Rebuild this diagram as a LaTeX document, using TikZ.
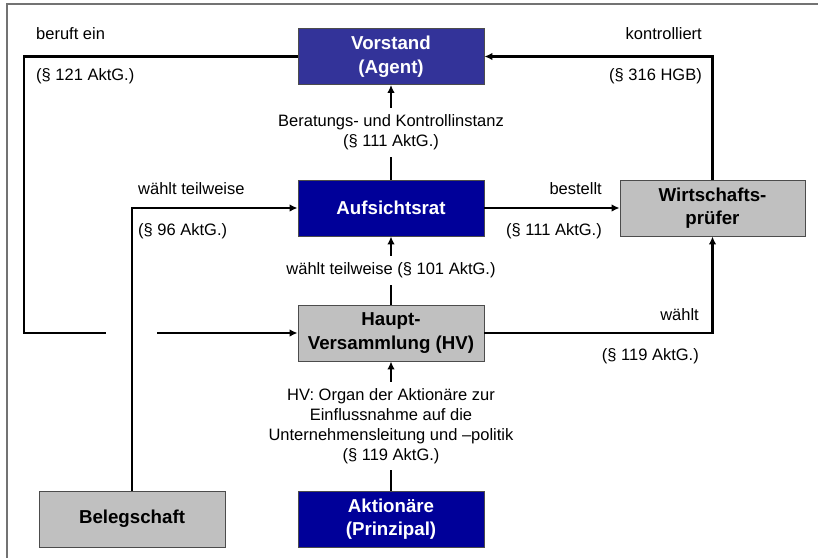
\documentclass[tikz,border=0pt]{standalone}
\usepackage{fontspec}
\setmainfont{Liberation Sans}
\usetikzlibrary{arrows.meta}
\definecolor{agentblue}{HTML}{333399}
\definecolor{darkblue}{HTML}{000099}
\definecolor{boxgray}{HTML}{C0C0C0}
\tikzset{
  box/.style={draw=black!70, line width=0.8pt, minimum width=186pt, minimum height=56pt,
    inner sep=0pt, align=center, font=\fontsize{18.7}{23.5}\selectfont\bfseries},
  agentbox/.style={box, fill=agentblue, text=white},
  bluebox/.style={box, fill=darkblue, text=white},
  graybox/.style={box, fill=boxgray, text=black},
  plainline/.style={line width=2.5pt},
  conn/.style={line width=2.5pt, -{Latex[length=8pt,width=7.5pt]}},
  lbl/.style={font=\fontsize{16.5}{20.5}\selectfont, inner sep=0pt, align=center},
  midlbl/.style={lbl, fill=white, inner ysep=6.5pt, inner xsep=2pt},
  frameline/.style={draw=black!55, line width=1.3pt}
}
\begin{document}
\begin{tikzpicture}[x=1pt,y=-1pt]
\useasboundingbox (0,0) rectangle (818,558);
\draw[frameline] (818,4) -- (7,4) -- (7,558);

% boxes
\node[agentbox] (vor) at (391,56.5) {Vorstand\\(Agent)};
\node[bluebox] (auf) at (391,208) {Aufsichtsrat};
\node[graybox, minimum width=185pt] (wp) at (712.5,208) {Wirtschafts-\\prüfer};
\node[graybox] (hv) at (391,333) {Haupt-\\Versammlung (HV)};
\node[graybox] (beleg) at (132,519) {Belegschaft};
\node[bluebox] (akt) at (391,519) {Aktionäre\\(Prinzipal)};

% helper coordinates
\coordinate (cTL) at (24,56.5);
\coordinate (cBL) at (24,333);
\coordinate (gapL) at (106,333);
\coordinate (gapR) at (157,333);
\coordinate (cBel) at (132,208);

% connectors
\draw[plainline] (vor.west) -- (cTL) -- (cBL) -- (gapL);
\draw[conn] (gapR) -- (hv.west);
\draw[conn] (beleg.north) -- (cBel) -- (auf.west);
\draw[conn] (auf.north) -- node[midlbl] {Beratungs- und Kontrollinstanz\\(§ 111 AktG.)} (vor.south);
\draw[conn] (hv.north) -- node[midlbl] {wählt teilweise (§ 101 AktG.)} (auf.south);
\draw[conn] (akt.north) -- node[midlbl, font=\fontsize{16.5}{20}\selectfont] {HV: Organ der Aktionäre zur\\Einflussnahme auf die\\Unternehmensleitung und –politik\\(§ 119 AktG.)} (hv.south);
\draw[conn] (auf.east) -- (wp.west);
\draw[conn] (hv.east) -- (hv.east -| wp.south) -- (wp.south);
\draw[conn] (wp.north) -- (wp.north |- vor.east) -- (vor.east);

% labels
\node[lbl, anchor=base west] (l1) at (36,39.5) {beruft ein};
\node[lbl, anchor=base west] (l2) at (36,80) {(§ 121 AktG.)};
\node[lbl, anchor=base west] (l3) at (138,194) {wählt teilweise};
\node[lbl, anchor=base west] (l4) at (138,235) {(§ 96 AktG.)};
\node[lbl, anchor=base east] (l5) at (702,39.5) {kontrolliert};
\node[lbl, anchor=base east] (l6) at (702,80) {(§ 316 HGB)};
\node[lbl, anchor=base east] (l7) at (602,194) {bestellt};
\node[lbl, anchor=base east] (l8) at (602,235) {(§ 111 AktG.)};
\node[lbl, anchor=base east] (l9) at (699,320) {wählt};
\node[lbl, anchor=base east] (l10) at (699,360) {(§ 119 AktG.)};
\end{tikzpicture}
\end{document}
